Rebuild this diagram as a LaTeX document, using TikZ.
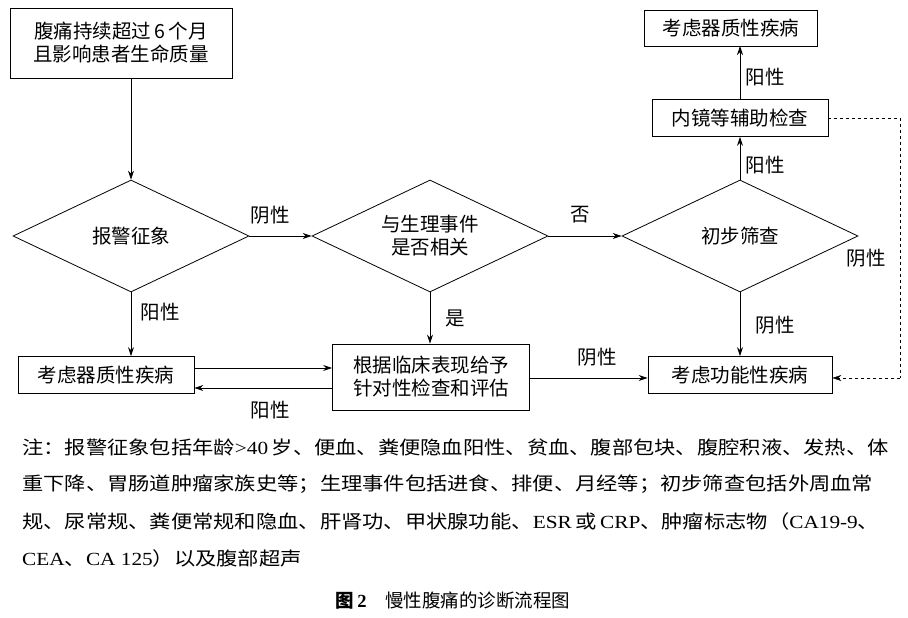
\documentclass[tikz,border=0pt]{standalone}
\usepackage{fontspec}
\setmainfont{Liberation Serif}
\newfontfamily\cjk{Noto Sans CJK SC}
\usetikzlibrary{shapes.geometric,arrows.meta}
\begin{document}
\begin{tikzpicture}[x=1pt,y=-1pt,
  bx/.style={draw,thick,inner sep=0pt,font=\cjk\fontsize{19.5}{23}\selectfont,align=center},
  dm/.style={draw,thick,diamond,inner sep=0pt,minimum width=236pt,minimum height=112pt,aspect=2.1,font=\cjk\fontsize{19.5}{23}\selectfont,align=center},
  lb/.style={font=\cjk\fontsize{19.5}{23}\selectfont},
  ar/.style={-{Stealth[length=9pt,width=6pt]},thick}]
\useasboundingbox (0,0) rectangle (908,618);
\node[bx,minimum width=222pt,minimum height=70pt] (start) at (121,43) {腹痛持续超过\,6\,个月\\且影响患者生命质量};
\node[dm] (d1) at (131,236) {报警征象};
\node[dm] (d2) at (430,236) {与生理事件\\是否相关};
\node[dm] (d3) at (740,236) {初步筛查};
\node[bx,minimum width=176pt,minimum height=37pt] (org1) at (106,375) {考虑器质性疾病};
\node[bx,minimum width=197pt,minimum height=66pt] (eval) at (431,377) {根据临床表现给予\\针对性检查和评估};
\node[bx,minimum width=184pt,minimum height=37pt] (func) at (740,375) {考虑功能性疾病};
\node[bx,minimum width=176pt,minimum height=37pt] (endo) at (740,118) {内镜等辅助检查};
\node[bx,minimum width=173pt,minimum height=36pt] (org2) at (731,28) {考虑器质性疾病};
\coordinate (s1) at (131,78);
\draw[ar] (s1) -- (d1.north);
\draw[ar] (d1.east) -- (d2.west);
\draw[ar] (d2.east) -- (d3.west);
\draw[ar] (d3.north) -- (endo.south);
\draw[ar] (endo.north) -- (740,46);
\draw[ar] (d3.south) -- (func.north);
\draw[ar] (d1.south) -- (d1.south |- org1.north);
\draw[ar] (d2.south) -- (d2.south |- eval.north);
\draw[ar] (eval.east |- 0,378) -- (func.west |- 0,378);
\draw[ar] (org1.east |- 0,368) -- (eval.west |- 0,368);
\draw[ar] (eval.west |- 0,388) -- (org1.east |- 0,388);
\coordinate (c1) at (900,118);
\coordinate (c2) at (900,378);
\draw[dashed] (endo.east) -- (c1) -- (c2);
\draw[-{Stealth[length=9pt,width=6pt]},dashed] (c2) -- (func.east |- c2);
\node[lb] (l1) at (270,215) {阴性};
\node[lb] (l2) at (580,215) {否};
\node[lb] (l3) at (765,165) {阳性};
\node[lb] (l4) at (765,77) {阳性};
\node[lb] (l5) at (775,325) {阴性};
\node[lb] (l6) at (160,312) {阳性};
\node[lb] (l7) at (455,318) {是};
\node[lb] (l8) at (597,357) {阴性};
\node[lb] (l9) at (270,410) {阳性};
\node[lb] (l10) at (866,258) {阴性};
\begin{scope}[every node/.style={anchor=west,inner sep=0pt,font=\cjk\fontsize{18.5}{22}\selectfont}]
\node (n1) at (22,447) {\scalebox{1.15}[1]{注：报警征象包括年龄{\rmfamily >40}\,岁、便血、粪便隐血阳性、贫血、腹部包块、腹腔积液、发热、体}};
\node (n2) at (22,484) {\scalebox{1.15}[1]{重下降、胃肠道肿瘤家族史等；生理事件包括进食、排便、月经等；初步筛查包括外周血常}};
\node (n3) at (22,521) {\scalebox{1.15}[1]{规、尿常规、粪便常规和隐血、肝肾功、甲状腺功能、{\rmfamily ESR}\,或\,{\rmfamily CRP}、肿瘤标志物（{\rmfamily CA19-9}、}};
\node (n4) at (22,558) {\scalebox{1.15}[1]{{\rmfamily CEA}、{\rmfamily CA 125}）以及腹部超声}};
\end{scope}
\node[font=\cjk\fontsize{18.5}{22}\selectfont] (cap) at (453,601) {{\bfseries 图\,{\rmfamily 2}}\quad 慢性腹痛的诊断流程图};
\end{tikzpicture}
\end{document}
